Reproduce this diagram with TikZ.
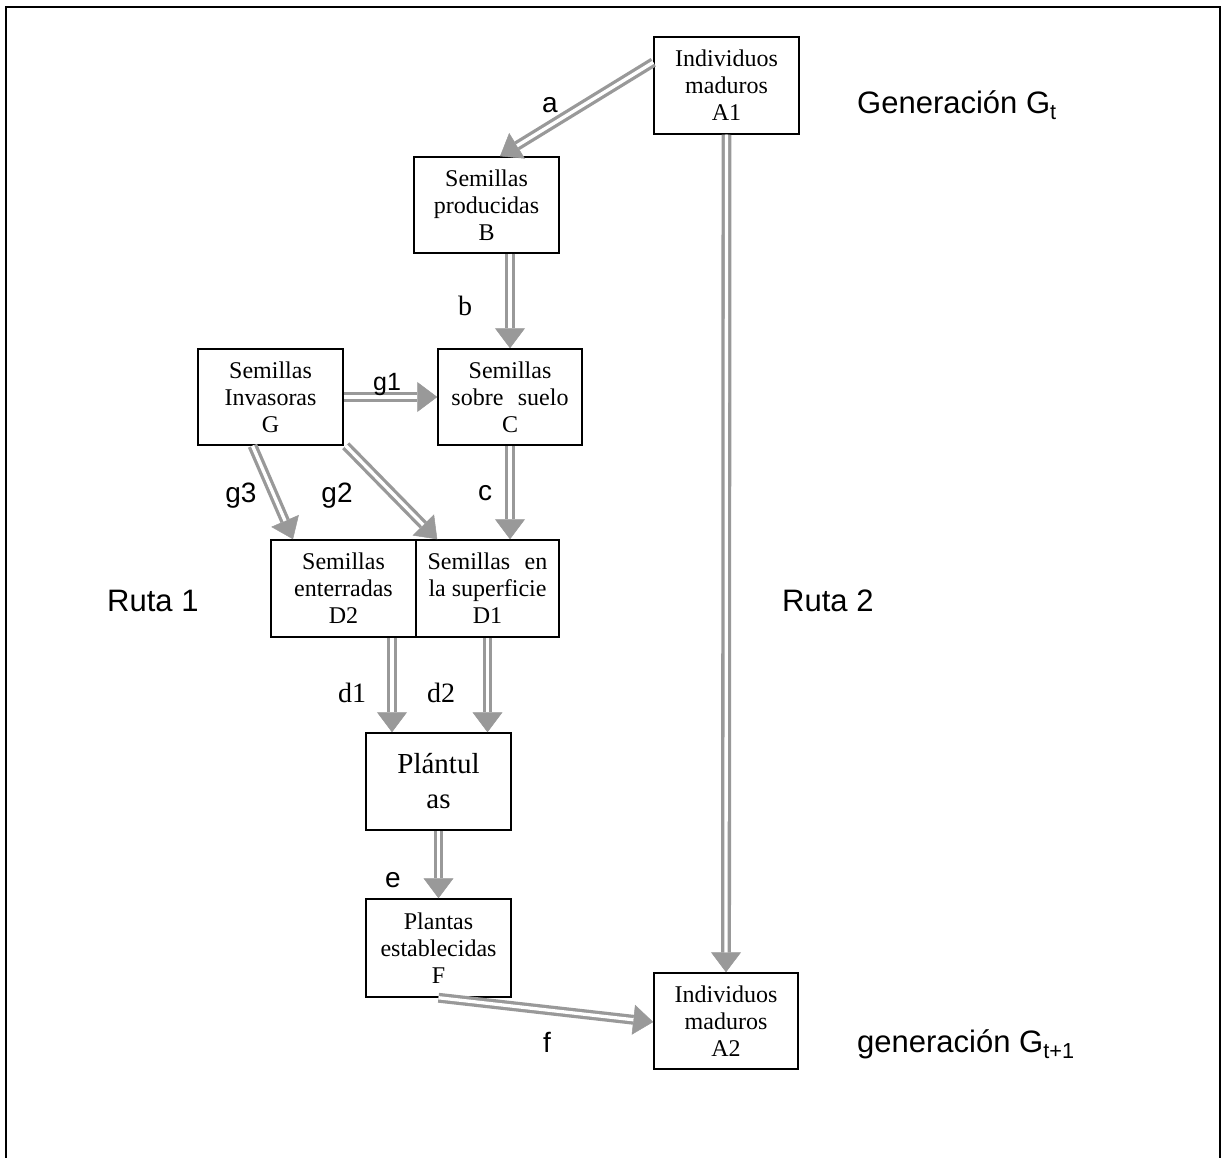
\documentclass[tikz,border=0pt]{standalone}
\usepackage{fontspec}
\setmainfont{Liberation Serif}
\newfontfamily\arial{Liberation Sans}
\usetikzlibrary{arrows.meta,calc}
\definecolor{arrgray}{RGB}{153,153,153}
\tikzset{
 box/.style={draw=black, line width=1.5pt, rectangle, minimum width=145pt, minimum height=97pt, inner sep=0pt, align=center, font=\fontsize{24}{27}\selectfont},
 shaft/.style={draw=arrgray, line width=3.3pt, double=white, double distance=3.3pt, shorten >=20pt},
 tipline/.style={draw=arrgray, line width=0.5pt, -{Triangle[length=20pt,width=30pt]}},
 lab/.style={inner sep=0pt, anchor=base, font=\arial\fontsize{28}{30}\selectfont},
 slab/.style={inner sep=0pt, anchor=base, font=\fontsize{28}{30}\selectfont},
 big/.style={inner sep=0pt, anchor=base west, font=\arial\fontsize{31}{34}\selectfont}
}
\newcommand\darr[2]{\draw[tipline] #1 -- #2; \draw[shaft] #1 -- #2;}
\begin{document}
\begin{tikzpicture}[x=1pt,y=-1pt]
\useasboundingbox (0,0) rectangle (1223,1158);
\draw[line width=2pt] (6,1162) -- (6,7) -- (1220,7) -- (1220,1162);
% boxes
\node[box] (A1) at (726.5,85.5) {Individuos\\maduros\\A1};
\node[box, minimum height=96pt] (B) at (486.5,205) {Semillas\\producidas\\B};
\node[box, minimum height=96pt] (G) at (270.5,397) {Semillas\\Invasoras\\G};
\node[box, minimum width=144pt, minimum height=96pt] (C) at (510,397) {Semillas\\sobre\hspace{0.6em}suelo\\C};
\node[box] (D2) at (343.5,588.5) {Semillas\\enterradas\\D2};
\node[box, minimum width=143pt] (D1) at (487.5,588.5) {Semillas\hspace{0.6em}en\\la superficie\\D1};
\node[box, font=\fontsize{29}{35}\selectfont] (P) at (438.5,781.5) {Plántul\\as};
\node[box, minimum height=98pt] (F) at (438.5,948) {Plantas\\establecidas\\F};
\node[box, minimum width=144pt, minimum height=96pt] (A2) at (726,1021) {Individuos\\maduros\\A2};
% connector end points
\coordinate (a1s) at ($(A1.north west)+(0,26)$);
\coordinate (bt) at ($(B.north)+(13.5,0)$);
\coordinate (g3s) at ($(G.south)+(-18,0)$);
\coordinate (g3e) at ($(D2.north)+(-50.5,0)$);
\coordinate (g2s) at ($(G.south east)+(2,0)$);
\coordinate (g2e) at ($(D1.north west)+(22,0)$);
\coordinate (d1s) at ($(D2.south)+(48.5,0)$);
\coordinate (fe) at ($(A2.west)+(0,1)$);
% connectors
\darr{(a1s)}{(bt)}
\darr{(C.north |- B.south)}{(C.north)}
\darr{(G.east)}{(C.west)}
\darr{(C.south)}{(C.south |- D1.north)}
\darr{(g3s)}{(g3e)}
\darr{(g2s)}{(g2e)}
\darr{(d1s)}{(d1s |- P.north)}
\darr{(D1.south)}{(D1.south |- P.north)}
\darr{(P.south)}{(F.north)}
\darr{(F.south)}{(fe)}
\darr{(A1.south)}{(A2.north)}
% labels
\node[lab] (la) at (550,113) {a};
\node[slab] (lb) at (465,316) {b};
\node[lab, font=\arial\fontsize{25}{27}\selectfont] (lg1) at (387,390) {g1};
\node[lab] (lg3) at (241,502) {g3};
\node[lab] (lg2) at (337,502) {g2};
\node[lab] (lc) at (485,500) {c};
\node[slab] (ld1) at (352,702) {d1};
\node[slab] (ld2) at (441,702) {d2};
\node[lab] (le) at (393,887) {e};
\node[lab] (lf) at (547,1052) {f};
\node[big] (r1) at (107,611) {Ruta 1};
\node[big] (r2) at (782,611) {Ruta 2};
\node[big] (gt) at (857,114) {Generación G\textsubscript{t}};
\node[big] (gt1) at (857,1052) {generación G\textsubscript{t+1}};
\end{tikzpicture}
\end{document}
